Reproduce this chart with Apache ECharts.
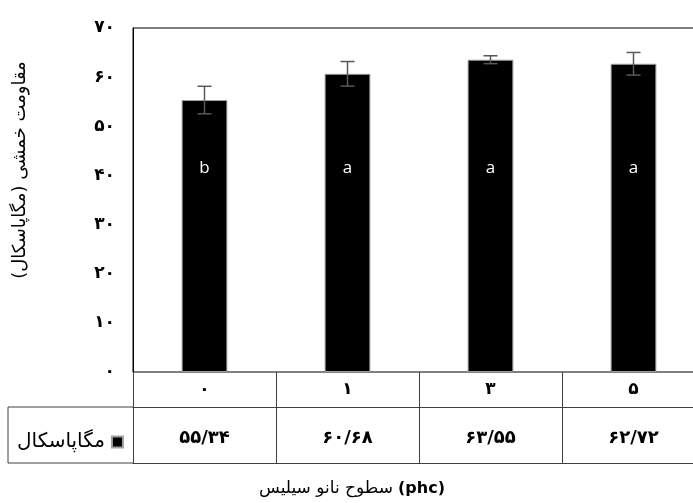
<!DOCTYPE html>
<html>
<head>
<meta charset="utf-8">
<script src="https://cdn.jsdelivr.net/npm/echarts@6/dist/echarts.min.js"></script>
<style>
  html, body { margin: 0; padding: 0; background: #fff; overflow: hidden; }
  /* the plot area runs past the right edge of the window, as in the source figure */
  #chart { width: 712px; height: 503px; }
</style>
</head>
<body>
<div id="chart"></div>
<script>
// nano silica levels (phc) and flexural strength (MPa)
var levels = [0, 1, 3, 5];
var strength = [55.34, 60.68, 63.55, 62.72];
var errors = [2.8, 2.5, 0.8, 2.3];
var letters = ['b', 'a', 'a', 'a'];
var yTicks = [0, 10, 20, 30, 40, 50, 60, 70];
var seriesName = 'مگاپاسکال';

var faDigits = '۰۱۲۳۴۵۶۷۸۹';
function toFa(v) {
  return String(v).replace(/[0-9]/g, function (d) { return faDigits[+d]; }).replace('.', '/');
}
var categories = levels.map(toFa);
var tableLabels = strength.map(function (v) { return toFa(v.toFixed(2)); });

var faFont = '"DejaVu Sans", sans-serif';
var lineColor = '#404040';

var chart = echarts.init(document.getElementById('chart'));
var option = {
  animation: false,
  backgroundColor: '#fff',
  title: {
    text: '{a|سطوح نانو سیلیس} {b|(phc)}',
    left: 347,
    textAlign: 'center',
    top: 475,
    textStyle: {
      rich: {
        a: { fontFamily: faFont, fontSize: 17, fontWeight: 'normal', color: '#000' },
        b: { fontFamily: faFont, fontSize: 16, fontWeight: 'bold', color: '#000' }
      }
    }
  },
  legend: {
    data: [seriesName],
    left: 12,
    top: 427,
    align: 'right',
    icon: 'rect',
    itemWidth: 11,
    itemHeight: 11,
    itemGap: 4,
    textStyle: { fontFamily: faFont, fontSize: 20, color: '#000', padding: [0, 2, 0, 0] }
  },
  grid: {
    left: 133,
    top: 28,
    right: 7,
    bottom: 131,
    show: true,
    borderColor: '#000',
    borderWidth: 1
  },
  xAxis: [
    {
      type: 'category',
      data: categories,
      position: 'bottom',
      axisLine: { show: true, lineStyle: { color: '#808080' } },
      axisTick: { show: true, alignWithLabel: false, length: 91, lineStyle: { color: lineColor } },
      axisLabel: { fontFamily: faFont, fontSize: 17, fontWeight: 'bold', color: '#000', margin: 9 }
    },
    {
      type: 'category',
      data: categories,
      position: 'bottom',
      offset: 35,
      axisLine: { show: true, lineStyle: { color: lineColor } },
      axisTick: { show: false },
      axisLabel: {
        fontFamily: faFont, fontSize: 18, fontWeight: 'bold', color: '#000', margin: 22,
        formatter: function (v, i) { return tableLabels[i]; }
      }
    },
    {
      type: 'category',
      data: categories,
      position: 'bottom',
      offset: 91,
      axisLine: { show: true, lineStyle: { color: lineColor } },
      axisTick: { show: false },
      axisLabel: { show: false }
    }
  ],
  yAxis: {
    type: 'value',
    min: yTicks[0],
    max: yTicks[yTicks.length - 1],
    interval: 10,
    name: '\u200Fمقاومت خمشی (مگاپاسکال)\u200F',
    nameLocation: 'middle',
    nameRotate: 90,
    nameGap: 104,
    nameTextStyle: { fontFamily: faFont, fontSize: 18, color: '#000', padding: [0, 0, 0, 60] },
    axisLine: { show: true, lineStyle: { color: '#000' } },
    axisTick: { show: false },
    splitLine: { show: false },
    axisLabel: {
      fontFamily: faFont, fontSize: 17, fontWeight: 'bold', color: '#000', margin: 18,
      formatter: function (v) { return toFa(v); }
    }
  },
  series: [
    {
      name: seriesName,
      type: 'bar',
      xAxisIndex: 0,
      data: strength,
      barWidth: '32%',
      itemStyle: { color: '#000', borderColor: '#a0a0a0', borderWidth: 1 },
      label: {
        show: true,
        position: 'insideBottom',
        distance: 195,
        fontFamily: '"Open Sans", sans-serif',
        fontSize: 17,
        color: '#fff',
        formatter: function (p) { return letters[p.dataIndex]; }
      },
      z: 2
    },
    {
      name: 'error',
      type: 'custom',
      xAxisIndex: 0,
      data: strength.map(function (v, i) { return [i, v - errors[i], v + errors[i]]; }),
      renderItem: function (params, api) {
        var lo = api.coord([api.value(0), api.value(1)]);
        var hi = api.coord([api.value(0), api.value(2)]);
        var w = 7;
        var style = { stroke: '#595959', lineWidth: 1.5 };
        return {
          type: 'group',
          children: [
            { type: 'line', shape: { x1: hi[0], y1: hi[1], x2: lo[0], y2: lo[1] }, style: style },
            { type: 'line', shape: { x1: hi[0] - w, y1: hi[1], x2: hi[0] + w, y2: hi[1] }, style: style },
            { type: 'line', shape: { x1: lo[0] - w, y1: lo[1], x2: lo[0] + w, y2: lo[1] }, style: style }
          ]
        };
      },
      z: 3
    }
  ],
  graphic: [
    { type: 'line', shape: { x1: 8, y1: 407, x2: 133, y2: 407 }, style: { stroke: lineColor, lineWidth: 1 } },
    { type: 'line', shape: { x1: 8, y1: 463, x2: 133, y2: 463 }, style: { stroke: lineColor, lineWidth: 1 } },
    { type: 'line', shape: { x1: 8, y1: 407, x2: 8, y2: 463 }, style: { stroke: lineColor, lineWidth: 1 } }
  ]
};
chart.setOption(option);
</script>
</body>
</html>
